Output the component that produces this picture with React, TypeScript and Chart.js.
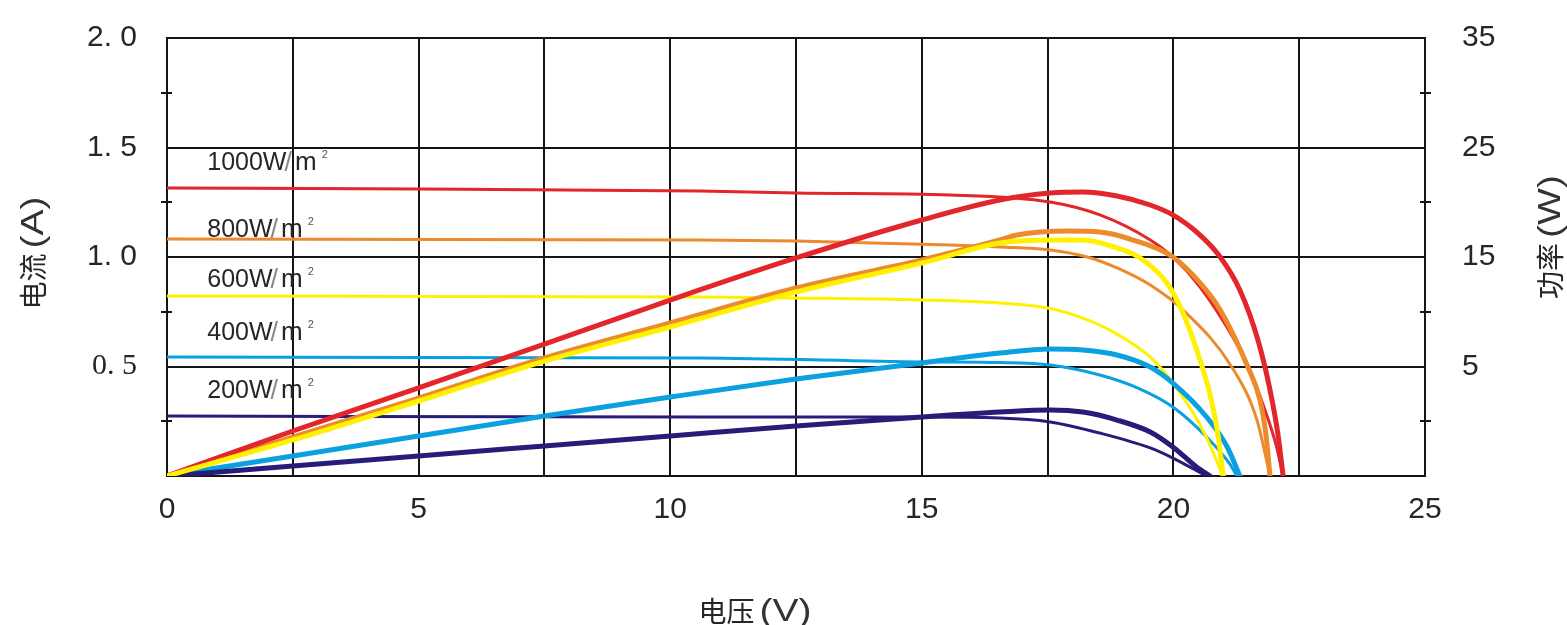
import React, { useEffect, useRef } from 'react';
import { Chart, registerables } from 'chart.js';

Chart.register(...registerables);

// ---------- data ----------
const irradianceLabels = ['1000W/m²', '800W/m²', '600W/m²', '400W/m²', '200W/m²'];
const seriesColors = ['#E2262B', '#EC8A2C', '#FFF100', '#0BA0DF', '#271C78'];

// I-V curves (voltage V, current A)
const ivVoltage1000 = [0, 5, 10.59, 12.5, 15.56, 17.55, 18.54, 19.54, 19.99, 20.53, 21.18, 21.52, 21.82, 22.04, 22.18];
const ivCurrent1000 = [1.315, 1.311, 1.301, 1.292, 1.283, 1.251, 1.192, 1.078, 1.0, 0.863, 0.635, 0.484, 0.301, 0.142, 0];
const ivVoltage800 = [0, 10.59, 12.5, 15.56, 16.55, 17.55, 18.29, 18.88, 19.54, 20.19, 21.16, 21.66, 21.92];
const ivCurrent800 = [1.082, 1.078, 1.073, 1.055, 1.046, 1.032, 1.0, 0.95, 0.872, 0.758, 0.498, 0.256, 0];
const ivVoltage600 = [0, 10.59, 12.5, 15, 16.55, 17.5, 18.2, 18.8, 19.54, 19.99, 20.53, 20.87, 20.97];
const ivCurrent600 = [0.822, 0.817, 0.813, 0.804, 0.79, 0.767, 0.721, 0.658, 0.543, 0.425, 0.233, 0.064, 0];
const ivVoltage400 = [0, 10.59, 15, 16.55, 17.55, 18.54, 19.34, 19.99, 20.66, 21.12, 21.26];
const ivCurrent400 = [0.543, 0.539, 0.521, 0.518, 0.507, 0.461, 0.397, 0.315, 0.178, 0.055, 0];
const ivVoltage200 = [0, 10.59, 15, 16.55, 17.55, 18.54, 19.54, 19.99, 20.66];
const ivCurrent200 = [0.274, 0.269, 0.269, 0.265, 0.247, 0.196, 0.128, 0.082, 0];

// P-V curves (voltage V, power W on the right axis)
const pvVoltage1000 = [0, 2.5, 5, 7.5, 10, 12.5, 15, 16.55, 17.55, 18.2, 18.88, 19.54, 19.99, 20.53, 20.93, 21.32, 21.68, 21.92, 22.08, 22.18];
const pvPower1000 = [-5, -0.89, 3.04, 7.05, 11.07, 14.91, 18.38, 20.21, 20.84, 20.94, 20.57, 19.75, 18.84, 17.0, 15.0, 11.99, 7.42, 2.85, -1.26, -5];
const pvVoltage800 = [0, 2.5, 5, 7.5, 10, 12.5, 15, 16.55, 16.89, 17.89, 18.54, 19.2, 19.99, 20.53, 20.93, 21.48, 21.72, 21.84, 21.92];
const pvPower800 = [-5, -1.44, 2.12, 5.78, 8.97, 12.17, 14.73, 16.55, 17.01, 17.37, 17.28, 16.55, 15.0, 12.63, 10.16, 4.95, 1.94, -1.26, -5];
const pvVoltage600 = [0, 2.5, 5, 7.5, 10, 12.5, 15, 16.55, 17.55, 18.2, 18.88, 19.34, 19.87, 20.19, 20.53, 20.73, 20.87, 20.99];
const pvPower600 = [-5, -1.71, 1.85, 5.5, 8.61, 11.8, 14.45, 16.28, 16.55, 16.55, 15.82, 14.91, 12.63, 9.89, 5.59, 2.4, -0.8, -5];
const pvVoltage400 = [0, 2.5, 5, 7.5, 10, 12.5, 15, 16.55, 17.55, 18.2, 18.88, 19.54, 19.99, 20.66, 21.07, 21.32];
const pvPower400 = [-5, -3.17, -1.35, 0.48, 2.21, 3.86, 5.32, 6.23, 6.6, 6.51, 6.05, 4.95, 3.49, 0.39, -2.35, -5];
const pvVoltage200 = [0, 2.5, 5, 7.5, 10, 12.5, 15, 16.55, 17.55, 18.2, 18.88, 19.54, 19.99, 20.46, 20.73];
const pvPower200 = [-5, -4.09, -3.17, -2.26, -1.35, -0.43, 0.39, 0.84, 1.03, 0.84, 0.11, -0.98, -2.35, -4.18, -5];

// tick labels
const voltageTickLabels = [0, 5, 10, 15, 20, 25];
const currentTickLabels = [0.5, 1.0, 1.5, 2.0];
const currentMinorTicks = [0.25, 0.75, 1.25, 1.75];
const powerTickLabels = [5, 15, 25, 35];

// curve label anchors (V, A)
const labelVoltage = 0.8;
const labelCurrent = [1.397, 1.091, 0.863, 0.621, 0.356];

const xTitle = ['电压', '(V)'];
const yTitle = ['电流', '(A)'];
const y1Title = ['功率', '(W)'];

const ivSets = [
  [ivVoltage1000, ivCurrent1000],
  [ivVoltage800, ivCurrent800],
  [ivVoltage600, ivCurrent600],
  [ivVoltage400, ivCurrent400],
  [ivVoltage200, ivCurrent200],
];
const pvSets = [
  [pvVoltage1000, pvPower1000],
  [pvVoltage800, pvPower800],
  [pvVoltage600, pvPower600],
  [pvVoltage400, pvPower400],
  [pvVoltage200, pvPower200],
];
const pvOrder = [3, 4, 0, 2, 1];

const near = (a: number, list: number[]) => list.some((b) => Math.abs(a - b) < 1e-6);

const TEXT = '#262626';
const GRID = '#151515';
const CLEAR = 'rgba(0,0,0,0)';

function drawTitle(ctx: any, parts: string[], cx: number, cy: number, rotate: boolean) {
  ctx.save();
  ctx.translate(cx, cy);
  if (rotate) ctx.rotate(-Math.PI / 2);
  const cjkFont = '28px "Noto Sans CJK SC"';
  const latFont = '32px "Liberation Sans"';
  const stretch = 1.22;
  ctx.font = cjkFont;
  const w1 = ctx.measureText(parts[0]).width;
  ctx.font = latFont;
  const w2 = ctx.measureText(parts[1]).width * stretch;
  const gap = 5;
  const total = w1 + gap + w2;
  ctx.textAlign = 'left';
  ctx.textBaseline = 'middle';
  ctx.fillStyle = TEXT;
  ctx.font = cjkFont;
  ctx.fillText(parts[0], -total / 2, 0);
  ctx.translate(-total / 2 + w1 + gap, 1);
  ctx.scale(stretch, 1);
  ctx.font = latFont;
  ctx.fillStyle = '#333';
  ctx.fillText(parts[1], 0, 0);
  ctx.restore();
}

const decorPlugin = {
  id: 'decor',
  beforeDraw(chart: any) {
    const { ctx, width, height } = chart;
    ctx.save();
    ctx.fillStyle = '#ffffff';
    ctx.fillRect(0, 0, width, height);
    ctx.restore();
  },
  afterDatasetsDraw(chart: any) {
    const { ctx, chartArea, scales } = chart;
    const x = scales.x;
    const y = scales.y;
    ctx.save();
    ctx.strokeStyle = GRID;
    ctx.lineWidth = 2;
    currentMinorTicks.forEach((v) => {
      const py = Math.round(y.getPixelForValue(v));
      ctx.beginPath();
      ctx.moveTo(chartArea.left - 6, py);
      ctx.lineTo(chartArea.left + 5, py);
      ctx.moveTo(chartArea.right - 5, py);
      ctx.lineTo(chartArea.right + 6, py);
      ctx.stroke();
    });
    irradianceLabels.forEach((label, i) => {
      const px = x.getPixelForValue(labelVoltage);
      const py = y.getPixelForValue(labelCurrent[i]);
      const slash = label.indexOf('/');
      const head = label.slice(0, slash);
      const unit = label.slice(slash + 1).replace('²', '');
      ctx.textBaseline = 'alphabetic';
      ctx.textAlign = 'left';
      ctx.fillStyle = TEXT;
      ctx.font = '25px "Liberation Sans"';
      ctx.fillText(head, px, py);
      let cx = px + ctx.measureText(head).width;
      ctx.fillStyle = '#8a8a8a';
      ctx.font = '27px "Liberation Sans"';
      ctx.fillText('/', cx - 2, py + 1);
      cx += ctx.measureText('/').width;
      ctx.fillStyle = TEXT;
      ctx.font = '26px "Liberation Sans"';
      ctx.fillText(unit, cx + 1, py);
      cx += ctx.measureText(unit).width + 6;
      ctx.font = '11px "Liberation Sans"';
      ctx.fillStyle = '#555';
      ctx.fillText('2', cx, py - 12);
    });
    ctx.restore();
  },
  afterDraw(chart: any) {
    const { ctx } = chart;
    drawTitle(ctx, xTitle, 755, 611, false);
    drawTitle(ctx, yTitle, 33, 253, true);
    drawTitle(ctx, y1Title, 1550, 237, true);
  },
};

export default function App() {
  const canvasRef = useRef<HTMLCanvasElement | null>(null);

  useEffect(() => {
    if (!canvasRef.current) return;
    const datasets: any[] = [];
    ivSets.forEach(([vs, is], i) => {
      datasets.push({
        label: irradianceLabels[i] + ' I',
        data: vs.map((v, k) => ({ x: v, y: is[k] })),
        yAxisID: 'y',
        borderColor: seriesColors[i],
        borderWidth: 3,
        order: 10 + i,
      });
    });
    pvSets.forEach(([vs, ps], i) => {
      datasets.push({
        label: irradianceLabels[i] + ' P',
        data: vs.map((v, k) => ({ x: v, y: ps[k] })),
        yAxisID: 'y1',
        borderColor: seriesColors[i],
        borderWidth: 5,
        order: pvOrder[i],
      });
    });

    const tickFont = { family: 'Liberation Sans', size: 30 };

    const chart = new Chart(canvasRef.current, {
      type: 'line',
      data: { datasets },
      plugins: [decorPlugin],
      options: {
        animation: false,
        responsive: true,
        maintainAspectRatio: false,
        layout: { padding: { top: 38, left: 0, right: 0, bottom: 0 } },
        elements: {
          point: { radius: 0, hoverRadius: 0 },
          line: { cubicInterpolationMode: 'monotone', fill: false, borderCapStyle: 'round', borderJoinStyle: 'round' },
        },
        plugins: { legend: { display: false }, tooltip: { enabled: false } },
        events: [],
        scales: {
          x: {
            type: 'linear',
            min: 0,
            max: 25,
            ticks: {
              stepSize: 2.5,
              autoSkip: false,
              maxRotation: 0,
              padding: 16,
              color: TEXT,
              font: tickFont,
              callback: (v: any) => (near(Number(v), voltageTickLabels) ? String(Number(v)) : ''),
            },
            grid: { color: GRID, lineWidth: 2, drawTicks: false },
            border: { color: GRID, width: 2 },
            afterFit: (s: any) => {
              s.height = 149;
            },
          },
          y: {
            position: 'left',
            min: 0,
            max: 2,
            ticks: {
              stepSize: 0.25,
              autoSkip: false,
              padding: 0,
              color: TEXT,
              font: (ctx: any) => ({
                family: ctx.tick && Math.abs(ctx.tick.value - 0.5) < 1e-6 ? 'Liberation Serif' : 'Liberation Sans',
                size: 30,
              }),
              callback: (v: any) =>
                near(Number(v), currentTickLabels) ? Number(v).toFixed(1).replace('.', '. ') : '',
            },
            grid: {
              color: (ctx: any) => (ctx.tick && near(ctx.tick.value, [0, ...currentTickLabels]) ? GRID : CLEAR),
              lineWidth: 2,
              drawTicks: true,
              tickLength: 30,
              tickColor: CLEAR,
            },
            border: { color: GRID, width: 2 },
            afterFit: (s: any) => {
              s.width = 167;
            },
          },
          y1: {
            position: 'right',
            min: -5,
            max: 35,
            ticks: {
              stepSize: 5,
              autoSkip: false,
              padding: 0,
              color: TEXT,
              font: tickFont,
              callback: (v: any) => (near(Number(v), powerTickLabels) ? String(Number(v)) : ''),
            },
            grid: { drawOnChartArea: false, drawTicks: true, tickLength: 37, tickColor: CLEAR },
            border: { color: GRID, width: 2 },
            afterFit: (s: any) => {
              s.width = 142;
            },
          },
        },
      } as any,
    });
    return () => chart.destroy();
  }, []);

  return (
    <div style={{ position: 'fixed', left: 0, top: 0, width: 1567, height: 625, background: '#fff' }}>
      <canvas ref={canvasRef} />
    </div>
  );
}
